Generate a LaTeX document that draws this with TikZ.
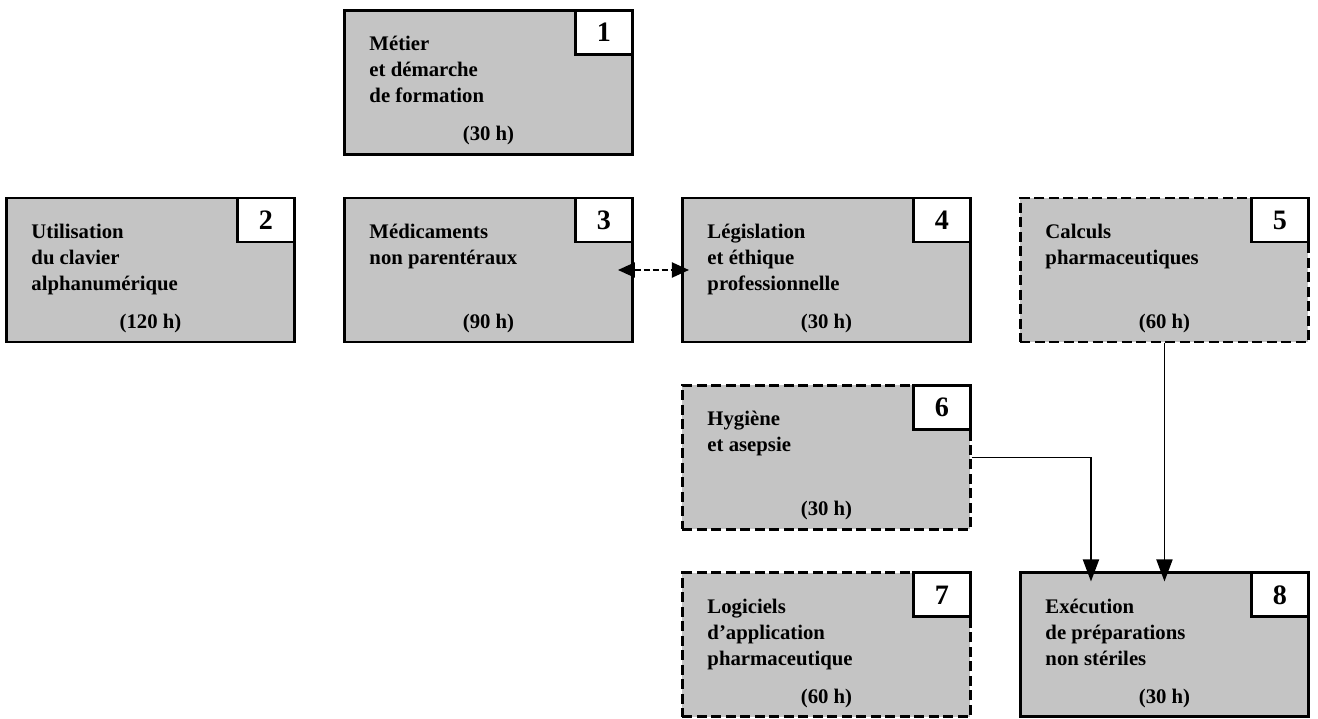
\documentclass[tikz,border=0pt]{standalone}
\usepackage{fontspec}
\setmainfont{Liberation Serif}
\usetikzlibrary{arrows.meta,positioning}

\newcommand{\modtext}[2]{\parbox[c][2.88cm][s]{4.76cm}{\vspace*{0.44cm}\strut#1\par\vfill\centering\strut#2\par\vspace*{0.12cm}}}

\begin{document}
\begin{tikzpicture}[
  box/.style={draw, line width=1.7pt, fill=black!23, inner sep=0pt, minimum width=5.76cm, minimum height=2.88cm, font=\fontsize{11.8pt}{14.8pt}\selectfont\bfseries},
  dbox/.style={box, dash pattern=on 0.2cm off 0.09cm},
  numbox/.style={draw, solid, line width=1.7pt, fill=white, inner sep=0pt, minimum width=1.14cm, minimum height=0.88cm, anchor=north east, font=\fontsize{16pt}{16pt}\selectfont\bfseries},
  arr/.style={-{Triangle[length=0.44cm, width=0.32cm]}, line width=1.1pt, shorten >=-0.2cm},
  darr/.style={{Triangle[length=0.34cm, width=0.3cm]}-{Triangle[length=0.34cm, width=0.3cm]}, line width=1.1pt, dash pattern=on 0.12cm off 0.06cm},
  node distance=0.81cm and 0.94cm
]
\useasboundingbox (0,0) rectangle (26.36,-14.38);
\node[box] (b2) at (3.01,-5.40) {\modtext{Utilisation\\ du clavier\\ alphanumérique}{(120 h)}};
\node[box, right=of b2] (b3) {\modtext{Médicaments\\ non parentéraux}{(90 h)}};
\node[box, right=of b3] (b4) {\modtext{Législation\\ et éthique\\ professionnelle}{(30 h)}};
\node[dbox, right=of b4] (b5) {\modtext{Calculs\\ pharmaceutiques}{(60 h)}};
\node[box, above=of b3] (b1) {\modtext{Métier\\ et démarche\\ de formation}{(30 h)}};
\node[dbox, below=of b4] (b6) {\modtext{Hygiène\\ et asepsie}{(30 h)}};
\node[dbox, below=of b6] (b7) {\modtext{Logiciels\\ d’application\\ pharmaceutique}{(60 h)}};
\node[box, right=of b7] (b8) {\modtext{Exécution\\ de préparations\\ non stériles}{(30 h)}};
\node[numbox] (n1) at (b1.north east) {1};
\node[numbox] (n2) at (b2.north east) {2};
\node[numbox] (n3) at (b3.north east) {3};
\node[numbox] (n4) at (b4.north east) {4};
\node[numbox] (n5) at (b5.north east) {5};
\node[numbox] (n6) at (b6.north east) {6};
\node[numbox] (n7) at (b7.north east) {7};
\node[numbox] (n8) at (b8.north east) {8};
\draw[darr] ([xshift=-0.32cm]b3.east) -- ([xshift=0.16cm]b4.west);
\draw[arr] (b6.east) -| ([xshift=1.44cm]b8.north west);
\draw[arr] (b5.south) -- (b8.north);
\end{tikzpicture}
\end{document}
